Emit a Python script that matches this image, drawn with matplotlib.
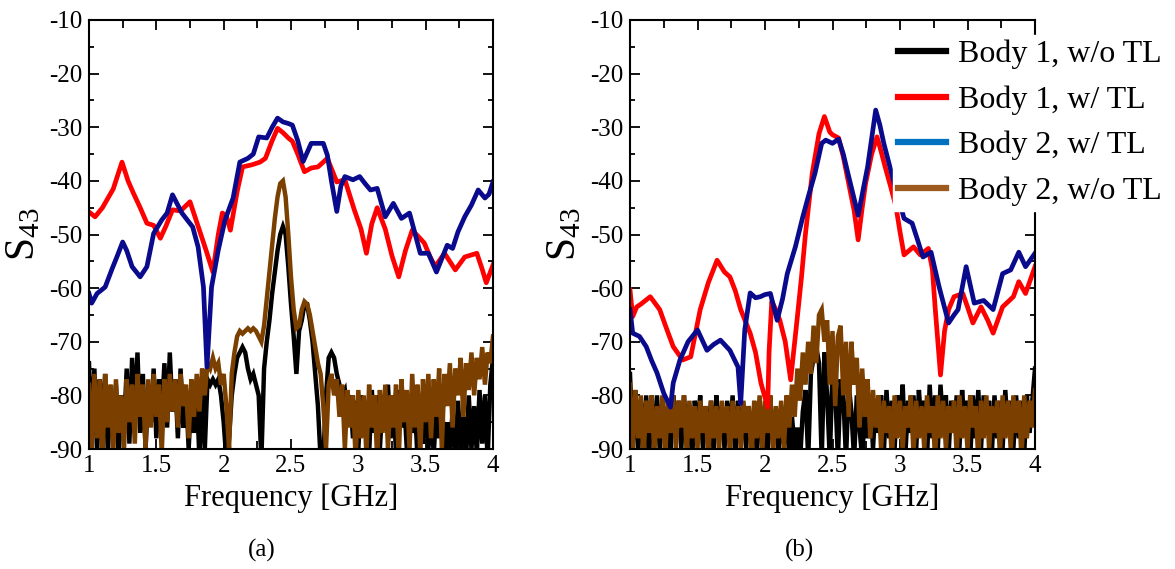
import numpy as np
import matplotlib
matplotlib.use("Agg")
import matplotlib.pyplot as plt
from matplotlib.lines import Line2D
from matplotlib.ticker import MultipleLocator

plt.rcParams['font.family'] = ['Liberation Serif', 'DejaVu Serif']
plt.rcParams['axes.unicode_minus'] = False
plt.rcParams['mathtext.fontset'] = 'custom'
plt.rcParams['mathtext.rm'] = 'Liberation Serif'
plt.rcParams['mathtext.it'] = 'Liberation Serif'

# ---------------- panel (a) ----------------
a_red_f = [1.00, 1.045, 1.10, 1.18, 1.245, 1.29, 1.33, 1.38, 1.43, 1.48, 1.53, 1.57, 1.62, 1.68,
           1.75, 1.82, 1.87, 1.92, 1.96, 1.99, 2.02, 2.05, 2.10, 2.14, 2.21, 2.27, 2.31, 2.36,
           2.40, 2.44, 2.48, 2.51, 2.55, 2.60, 2.65, 2.70, 2.77, 2.84, 2.90, 2.97, 3.02, 3.06,
           3.10, 3.14, 3.20, 3.25, 3.30, 3.35, 3.40, 3.45, 3.49, 3.53, 3.57, 3.64, 3.72, 3.79,
           3.88, 3.92, 3.95, 4.00]
a_red_v = [-45.8, -46.7, -45.0, -41.5, -36.5, -40.0, -42.3, -45.0, -47.9, -48.3, -50.7, -48.5,
           -45.4, -45.6, -43.9, -49.2, -53.0, -57.0, -50.0, -46.0, -46.5, -49.2, -42.0, -37.4,
           -37.0, -36.5, -35.8, -32.5, -30.2, -31.0, -32.0, -32.6, -35.0, -38.3, -37.6, -37.4,
           -35.8, -40.2, -39.8, -45.4, -49.0, -53.5, -48.0, -45.0, -49.0, -54.0, -57.9, -53.0,
           -49.2, -50.5, -51.6, -54.0, -56.0, -53.5, -56.6, -54.2, -53.5, -56.5, -59.0, -55.7]

a_navy_f = [1.00, 1.02, 1.06, 1.12, 1.17, 1.21, 1.25, 1.28, 1.32, 1.38, 1.43, 1.48, 1.54, 1.58,
            1.62, 1.69, 1.77, 1.81, 1.85, 1.876, 1.91, 1.96, 2.01, 2.07, 2.12, 2.18, 2.22, 2.26,
            2.32, 2.36, 2.40, 2.44, 2.48, 2.51, 2.55, 2.59, 2.65, 2.74, 2.77, 2.80, 2.84, 2.87,
            2.90, 2.96, 3.01, 3.05, 3.09, 3.14, 3.20, 3.26, 3.32, 3.38, 3.46, 3.52, 3.58, 3.66,
            3.70, 3.74, 3.79, 3.84, 3.89, 3.94, 3.97, 4.00]
a_navy_v = [-61.0, -62.8, -61.0, -59.8, -56.5, -54.0, -51.4, -53.0, -56.0, -57.9, -56.0, -49.8,
            -47.3, -46.0, -42.6, -46.0, -48.6, -52.3, -59.8, -74.7, -59.8, -52.9, -47.3, -43.2,
            -36.5, -35.8, -35.0, -31.8, -32.0, -30.0, -28.3, -29.0, -29.3, -29.6, -32.5, -36.4,
            -33.0, -33.0, -35.2, -40.0, -45.7, -41.0, -39.2, -39.8, -39.2, -40.5, -41.7, -41.4,
            -46.7, -44.2, -47.0, -46.0, -53.5, -53.5, -57.0, -52.0, -52.6, -49.5, -46.7, -44.5,
            -41.7, -43.2, -42.5, -40.2]

# measured on a 0.02 GHz grid from 1 to 4 GHz
a_black_v = [-74, -88, -75, -91, -77, -86, -76, -91, -79, -88, -78, -92, -80, -86, -75, -89,
             -73, -84, -72, -87, -76, -90, -79, -85, -75, -88, -77, -84, -74, -86, -72, -83,
             -77, -88, -75, -86, -79, -90, -80, -87, -79, -92, -78, -90, -77, -78, -77, -78,
             -77, -80, -85, -92, -88, -80, -76, -73, -72, -71, -72, -75, -77, -76, -78, -80,
             -92, -75, -70, -66, -61, -57, -53, -50, -48.5, -50, -56, -63, -69, -76, -68, -66,
             -63, -63, -66, -70, -76, -82, -92, -92, -80, -73, -72, -73, -76, -78, -80, -79,
             -84, -80, -88, -81, -90, -80, -86, -82, -91, -79, -87, -80, -90, -81, -86, -78,
             -88, -80, -91, -79, -86, -81, -90, -80, -87, -82, -92, -84, -89, -80, -90, -83,
             -91, -82, -88, -80, -92, -85, -90, -83, -92, -81, -90, -84, -92, -80, -90, -82,
             -91, -79, -89, -80, -92, -78, -73]
a_brown_v = [-78, -90, -76, -88, -77, -92, -76, -86, -78, -91, -77, -87, -80, -90, -77, -85,
             -78, -89, -76, -84, -78, -90, -77, -86, -76, -84, -78, -91, -77, -85, -76, -83,
             -77, -86, -76, -82, -78, -88, -77, -84, -76, -83, -75, -80, -74, -75, -73, -75,
             -74, -78, -76, -82, -90, -76, -72, -69, -68, -68.5, -68, -67.5, -68, -67.5, -68, -69,
             -70, -67, -62, -57, -52, -47, -43, -40.5, -40, -43, -50, -58, -64, -67.5, -67, -64,
             -62.5, -63, -65, -68, -71, -74, -76, -82, -90, -78, -76, -80, -77, -84, -78, -90,
             -79, -86, -80, -92, -79, -88, -80, -91, -78, -86, -80, -92, -79, -87, -78, -90,
             -80, -86, -78, -92, -77, -85, -79, -90, -76, -86, -78, -91, -77, -85, -76, -88,
             -77, -84, -75, -90, -76, -82, -74, -86, -75, -80, -73, -84, -74, -79, -72, -80,
             -73, -77, -71, -78, -72, -74, -69]

# ---------------- panel (b) ----------------
b_red_f = [1.00, 1.02, 1.05, 1.08, 1.15, 1.22, 1.27, 1.32, 1.39, 1.45, 1.52, 1.58, 1.645, 1.70,
           1.74, 1.78, 1.82, 1.89, 1.93, 1.97, 2.02, 2.03, 2.05, 2.08, 2.11, 2.15, 2.19, 2.24,
           2.27, 2.30, 2.35, 2.40, 2.44, 2.48, 2.50, 2.545, 2.58, 2.62, 2.66, 2.69, 2.72, 2.745,
           2.79, 2.83, 2.86, 2.89, 2.93, 2.97, 3.00, 3.03, 3.10, 3.15, 3.21, 3.24, 3.26, 3.30,
           3.33, 3.36, 3.40, 3.465, 3.50, 3.54, 3.60, 3.65, 3.69, 3.76, 3.84, 3.88, 3.93, 4.00]
b_red_v = [-60.3, -65.3, -63.5, -63.0, -61.6, -64.0, -67.5, -70.9, -73.4, -72.8, -64.0, -59.0,
           -54.8, -57.0, -57.9, -60.5, -64.0, -68.4, -72.0, -77.7, -82.2, -72.0, -62.5, -64.0,
           -66.0, -70.0, -77.1, -65.3, -58.0, -49.8, -38.6, -31.2, -28.0, -30.9, -31.4, -32.0,
           -35.5, -40.5, -45.5, -51.0, -45.0, -40.5, -35.0, -31.8, -34.5, -37.4, -41.0, -44.8,
           -49.5, -53.8, -52.3, -53.8, -52.6, -56.5, -63.5, -76.2, -68.0, -64.0, -61.6, -61.0,
           -63.5, -66.5, -63.5, -66.0, -68.4, -63.5, -61.6, -58.8, -61.0, -56.0]

b_navy_f = [1.00, 1.02, 1.07, 1.12, 1.16, 1.20, 1.25, 1.30, 1.32, 1.37, 1.43, 1.50, 1.57, 1.62,
            1.67, 1.74, 1.80, 1.82, 1.85, 1.89, 1.93, 1.965, 2.00, 2.04, 2.09, 2.13, 2.165, 2.225,
            2.28, 2.32, 2.37, 2.42, 2.45, 2.50, 2.545, 2.58, 2.62, 2.69, 2.76, 2.82, 2.85, 2.88,
            2.95, 3.03, 3.09, 3.13, 3.17, 3.23, 3.29, 3.36, 3.40, 3.43, 3.49, 3.55, 3.62, 3.69,
            3.76, 3.82, 3.88, 3.93, 4.00]
b_navy_v = [-64.0, -68.4, -69.0, -70.9, -73.5, -75.8, -79.6, -82.2, -77.7, -73.4, -70.0, -67.8,
            -71.6, -70.5, -69.7, -71.6, -74.7, -81.5, -67.8, -60.9, -61.8, -61.6, -61.2, -61.0,
            -66.0, -62.0, -57.3, -52.3, -46.7, -43.0, -38.6, -33.0, -32.4, -33.0, -32.2, -35.0,
            -39.2, -46.4, -37.4, -26.8, -29.5, -33.0, -39.8, -47.0, -47.9, -51.0, -54.2, -53.3,
            -59.8, -66.5, -65.0, -64.0, -56.0, -62.8, -62.3, -64.0, -57.3, -56.6, -53.3, -56.0,
            -53.5]

# measured on a 0.02 GHz grid from 1 to 4 GHz
b_black_v = [-76, -89, -79, -91, -81, -88, -80, -92, -82, -87, -80, -90, -81, -88, -82, -91,
             -80, -87, -81, -90, -80, -88, -82, -92, -81, -86, -80, -90, -82, -88, -81, -91,
             -80, -87, -82, -90, -81, -88, -80, -92, -81, -87, -83, -90, -82, -88, -83, -91,
             -82, -87, -83, -90, -84, -88, -83, -91, -84, -89, -83, -92, -84, -90, -86, -92,
             -83, -79, -92, -76, -73, -71, -74, -92, -72, -80, -92, -75, -79, -92, -77, -80,
             -92, -78, -83, -92, -80, -86, -92, -82, -88, -80, -90, -81, -87, -80, -91, -79,
             -88, -81, -90, -80, -86, -78, -91, -81, -87, -80, -90, -79, -86, -81, -92, -78,
             -88, -80, -90, -78, -86, -80, -91, -81, -87, -80, -90, -79, -86, -81, -92, -80,
             -88, -79, -90, -80, -87, -81, -91, -80, -88, -81, -90, -79, -87, -81, -90, -80,
             -88, -81, -91, -80, -87, -81, -75]
b_brown_v = [-78, -90, -79, -88, -80, -92, -81, -87, -80, -91, -82, -88, -80, -92, -81, -87,
             -80, -90, -81, -86, -80, -91, -81, -88, -82, -90, -81, -87, -82, -92, -81, -88,
             -82, -90, -81, -87, -82, -91, -81, -88, -82, -90, -81, -87, -82, -92, -81, -88,
             -80, -90, -81, -87, -80, -91, -82, -88, -81, -90, -80, -86, -78, -84, -75, -81,
             -72, -78, -70, -76, -67, -74, -65, -64, -70, -66, -78, -68, -82, -69, -67, -80,
             -70, -84, -70, -78, -73, -86, -75, -84, -77, -88, -79, -86, -80, -90, -81, -87,
             -82, -92, -80, -88, -81, -90, -82, -86, -80, -91, -81, -88, -82, -90, -80, -87,
             -82, -92, -80, -88, -81, -90, -82, -87, -81, -91, -80, -88, -82, -90, -80, -86,
             -82, -92, -81, -88, -80, -90, -82, -87, -81, -91, -80, -88, -81, -90, -80, -87,
             -81, -92, -80, -88, -81, -86, -79]

labels = ["Body 1, w/o TL", "Body 1, w/ TL", "Body 2, w/ TL", "Body 2, w/o TL"]
c_black, c_red, c_navy, c_brown = "#000000", "#FF0000", "#0A0A8C", "#7B3F00"
legend_colors = ["#000000", "#FF0000", "#0070C0", "#9C5A1E"]

fig = plt.figure(figsize=(11.75, 5.69), dpi=100)
W, H = 1175, 569
ax_a = fig.add_axes([89 / W, 1 - 449 / H, 404 / W, 429 / H])
ax_b = fig.add_axes([630 / W, 1 - 449 / H, 405 / W, 429 / H])


def draw(ax, black_v, brown_v, red_f, red_v, navy_f, navy_v):
    grid = np.linspace(1.0, 4.0, len(black_v))
    ax.plot(grid, black_v, color=c_black, lw=3.2, zorder=2, solid_joinstyle='miter')
    ax.plot(grid, brown_v, color=c_brown, lw=3.2, zorder=3, solid_joinstyle='miter')
    ax.plot(red_f, red_v, color=c_red, lw=3.4, zorder=4, solid_joinstyle='round')
    ax.plot(navy_f, navy_v, color=c_navy, lw=3.4, zorder=5, solid_joinstyle='round')
    ax.set_xlim(1, 4)
    ax.set_ylim(-90, -10)
    ax.xaxis.set_major_locator(MultipleLocator(0.5))
    ax.xaxis.set_minor_locator(MultipleLocator(0.25))
    ax.yaxis.set_major_locator(MultipleLocator(10))
    ax.yaxis.set_minor_locator(MultipleLocator(5))
    ax.xaxis.set_major_formatter(plt.FuncFormatter(lambda v, p: f"{v:g}"))
    ax.tick_params(which='both', direction='in', top=True, right=True, width=1.3)
    ax.tick_params(which='major', length=7, labelsize=18)
    ax.tick_params(axis='y', which='major', pad=5)
    ax.tick_params(axis='x', which='major', pad=4)
    ax.tick_params(axis='y', which='minor', length=3.5)
    ax.tick_params(axis='x', which='minor', length=6)
    for s in ax.spines.values():
        s.set_linewidth(1.5)
        s.set_zorder(6)
    ax.set_xlabel("Frequency [GHz]", fontsize=22, labelpad=5)
    ax.set_ylabel(r"$\mathrm{S}_{43}$", fontsize=30, labelpad=4)


draw(ax_a, a_black_v, a_brown_v, a_red_f, a_red_v, a_navy_f, a_navy_v)
draw(ax_b, b_black_v, b_brown_v, b_red_f, b_red_v, b_navy_f, b_navy_v)

handles = [Line2D([], [], color=c, lw=4.5) for c in legend_colors]
leg = ax_b.legend(handles, labels, loc='upper left', bbox_to_anchor=(893 / W, 1 - 35 / H),
                  bbox_transform=fig.transFigure, fontsize=23, frameon=True, fancybox=False,
                  framealpha=1, edgecolor='white', borderpad=0.15, borderaxespad=0,
                  handlelength=1.5, handletextpad=0.4, labelspacing=0.5)
leg.set_zorder(10)

fig.text(262 / W, 1 - 550 / H, "(a)", ha='center', va='center', fontsize=18)
fig.text(800 / W, 1 - 550 / H, "(b)", ha='center', va='center', fontsize=18)

fig.savefig("out.png", dpi=100)
